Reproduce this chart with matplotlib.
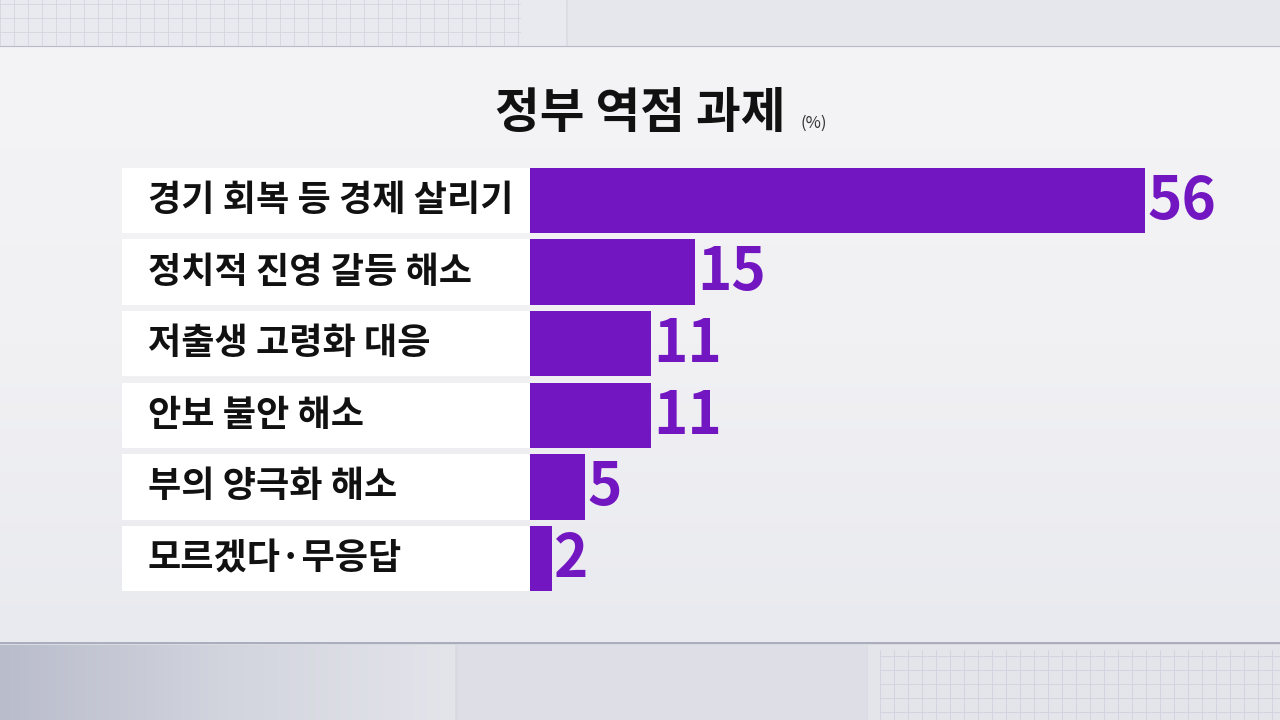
import numpy as np
import matplotlib.pyplot as plt
from matplotlib.patches import Rectangle
from matplotlib.colors import LinearSegmentedColormap

plt.rcParams['font.family'] = ['Noto Sans CJK KR', 'DejaVu Sans']

categories = ['경기 회복 등 경제 살리기', '정치적 진영 갈등 해소', '저출생 고령화 대응',
              '안보 불안 해소', '부의 양극화 해소', '모르겠다·무응답']
values = [56, 15, 11, 11, 5, 2]
title = '정부 역점 과제'
unit = '(%)'

bar_color = '#7216c2'

fig = plt.figure(figsize=(12.8, 7.2), dpi=100)

# background "paper" layer in pixel coordinates
bg = fig.add_axes([0, 0, 1, 1])
bg.set_xlim(0, 1280)
bg.set_ylim(720, 0)
bg.axis('off')
bg.add_patch(Rectangle((0, 0), 1280, 720, color='#d9dbe3', zorder=0))
# top strip
bg.add_patch(Rectangle((0, 0), 565, 46, color='#e9eaf0', zorder=1))
for gx in np.arange(0, 520, 14):
    bg.plot([gx, gx], [0, 45], color='#d3d6e0', lw=0.6, zorder=2)
for gy in np.arange(4, 45, 14):
    bg.plot([0, 520], [gy, gy], color='#d3d6e0', lw=0.6, zorder=2)
bg.add_patch(Rectangle((568, 0), 712, 45, color='#e6e7ed', zorder=1))
# bottom strip
cm_left = LinearSegmentedColormap.from_list('l', ['#b9bccb', '#d2d4de', '#e4e5eb'])
grad = np.linspace(0, 1, 256).reshape(1, -1)
bg.imshow(grad, extent=(0, 455, 720, 645), cmap=cm_left, aspect='auto', zorder=1)
bg.add_patch(Rectangle((458, 645), 408, 75, color='#dddee6', zorder=1))
bg.add_patch(Rectangle((868, 645), 412, 75, color='#e4e5eb', zorder=1))
for gx in np.arange(880, 1280, 14):
    bg.plot([gx, gx], [650, 720], color='#cfd2dd', lw=0.6, zorder=2)
for gy in np.arange(656, 720, 14):
    bg.plot([880, 1280], [gy, gy], color='#cfd2dd', lw=0.6, zorder=2)
# main sheet
cm_sheet = LinearSegmentedColormap.from_list('s', ['#f4f4f6', '#f1f1f4', '#e9eaef'])
sheet = np.linspace(0, 1, 256).reshape(-1, 1)
bg.imshow(sheet, extent=(0, 1280, 643, 46), cmap=cm_sheet, aspect='auto', zorder=3)
bg.plot([0, 1280], [643, 643], color='#9fa3b4', lw=1.2, zorder=4)
bg.plot([0, 1280], [46, 46], color='#b7bac8', lw=0.8, zorder=4)

bg.text(640, 113, title, ha='center', va='center', fontsize=35, fontweight='black',
        color='#111111', zorder=5)
bg.text(814, 123, unit, ha='center', va='center', fontsize=12, color='#333333', zorder=5)

# bar chart layer
px_per_unit = 10.98
left_px, right_px = 122, 1250
top_px, bottom_px = 164.5, 594.5
ax = fig.add_axes([left_px / 1280, 1 - bottom_px / 720,
                   (right_px - left_px) / 1280, (bottom_px - top_px) / 720])
xmin = -(530 - left_px) / px_per_unit
xmax = (right_px - 530) / px_per_unit
ax.set_xlim(xmin, xmax)
ax.set_ylim(len(values) - 0.5, -0.5)
ax.axis('off')
ax.patch.set_alpha(0)

y = np.arange(len(values))
ax.barh(y, [-xmin] * len(values), left=xmin, height=0.91, color='white', zorder=2)
ax.barh(y, values, height=0.91, color=bar_color, zorder=3)

for yi, cat, val in zip(y, categories, values):
    ax.text(xmin + 26 / px_per_unit, yi, cat, ha='left', va='center', fontsize=26,
            fontweight='bold', color='#111111', zorder=4)
    ax.text(val + 0.2, yi + 0.02, str(val), ha='left', va='center', fontsize=42,
            fontweight='black', color=bar_color, zorder=4)

fig.savefig('out.png', dpi=100)
